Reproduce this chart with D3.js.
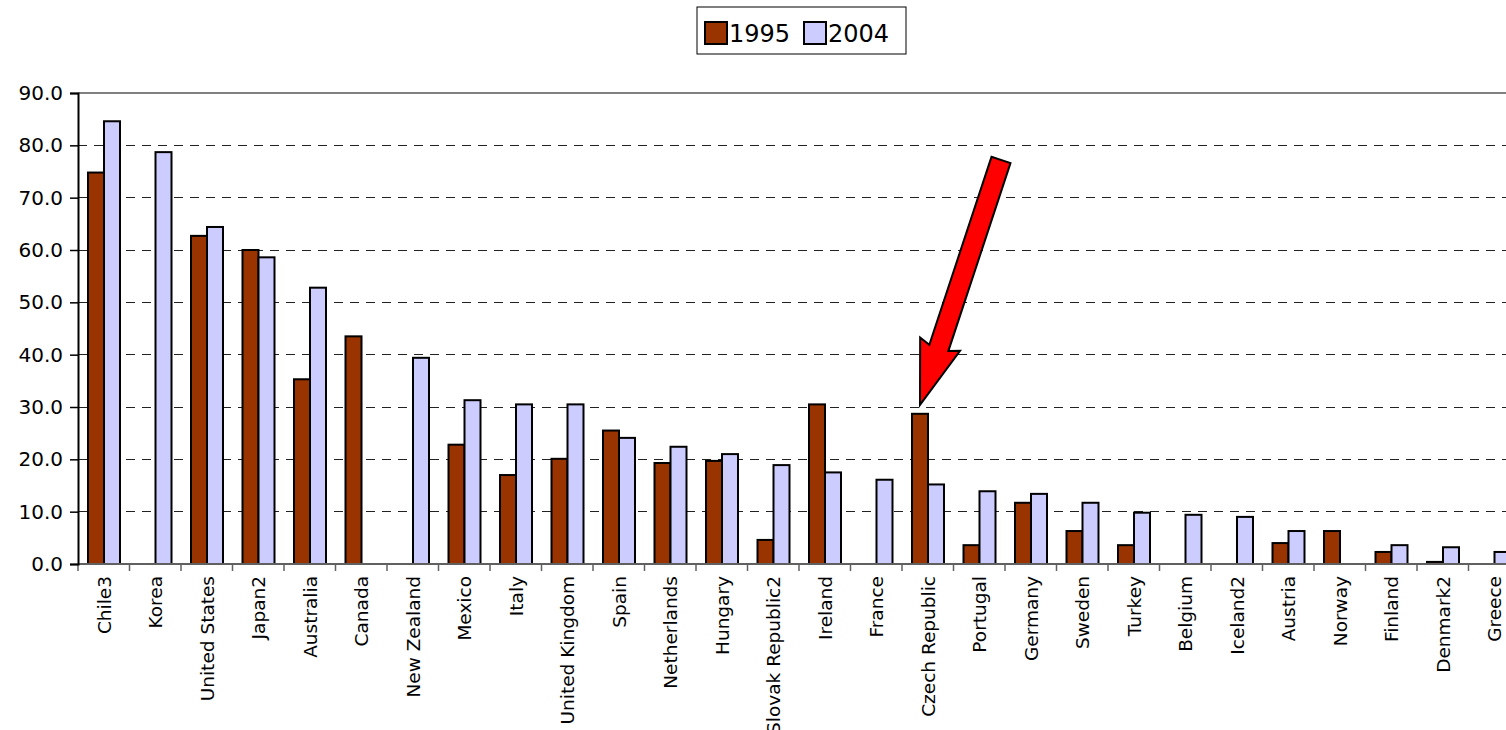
<!DOCTYPE html>
<html>
<head>
<meta charset="utf-8">
<script src="https://cdn.jsdelivr.net/npm/d3@7"></script>
<style>
  body { margin: 0; background: #fff; }
  svg { display: block; }
  .ytick text { font-family: "DejaVu Sans", Verdana, sans-serif; font-size: 20px; fill: #000; }
  .xlab { font-family: "Comic Sans MS", "DejaVu Sans", sans-serif; font-size: 18.5px; fill: #000; }
  .legend text { font-family: "Comic Sans MS", "DejaVu Sans", sans-serif; font-size: 24px; fill: #000; }
</style>
</head>
<body>
<svg id="chart" width="1506" height="730"></svg>
<script>
const countries = ["Chile3", "Korea", "United States", "Japan2", "Australia", "Canada", "New Zealand",
  "Mexico", "Italy", "United Kingdom", "Spain", "Netherlands", "Hungary", "Slovak Republic2", "Ireland",
  "France", "Czech Republic", "Portugal", "Germany", "Sweden", "Turkey", "Belgium", "Iceland2", "Austria",
  "Norway", "Finland", "Denmark2", "Greece"];
const values1995 = [74.8, null, 62.7, 60.0, 35.3, 43.5, null, 22.8, 17.0, 20.1, 25.5, 19.3, 19.7, 4.6, 30.5,
  null, 28.7, 3.6, 11.7, 6.3, 3.6, null, null, 4.0, 6.3, 2.3, 0.4, null];
const values2004 = [84.6, 78.7, 64.4, 58.6, 52.8, null, 39.4, 31.3, 30.5, 30.5, 24.1, 22.4, 21.0, 18.9, 17.5,
  16.1, 15.2, 13.9, 13.4, 11.7, 9.8, 9.4, 9.0, 6.3, null, 3.6, 3.2, 2.3];
const seriesNames = ["1995", "2004"];
const seriesColors = ["#993300", "#CCCCFF"];
const yTicks = [0, 10, 20, 30, 40, 50, 60, 70, 80, 90];

const svg = d3.select("#chart");
const mLeft = 78, mTop = 93, mBottom = 564, band = 51.5;

const x = d3.scaleBand()
  .domain(countries)
  .range([mLeft, mLeft + band * countries.length])
  .paddingInner(0).paddingOuter(0);

const y = d3.scaleLinear().domain([0, 90]).range([mBottom, mTop]);

const inner = d3.scaleBand().domain(seriesNames).range([10, 42]);

// gridlines
svg.append("g").selectAll("line")
  .data(yTicks.filter(d => d > 0 && d < 90))
  .join("line")
  .attr("x1", mLeft).attr("x2", 1506)
  .attr("y1", d => y(d)).attr("y2", d => y(d))
  .attr("stroke", "#222").attr("stroke-width", 1)
  .attr("stroke-dasharray", "9,7")
  .attr("shape-rendering", "crispEdges");

// plot top border
svg.append("line")
  .attr("x1", mLeft).attr("x2", 1506)
  .attr("y1", y(90)).attr("y2", y(90))
  .attr("stroke", "#808080").attr("stroke-width", 2);

// bars
const rows = countries.map((c, i) => ({ c, v: [values1995[i], values2004[i]] }));
const groups = svg.append("g").selectAll("g")
  .data(rows)
  .join("g")
  .attr("transform", d => `translate(${x(d.c)},0)`);

groups.selectAll("rect")
  .data(d => seriesNames.map((s, k) => ({ s, v: d.v[k], k })).filter(e => e.v !== null))
  .join("rect")
  .attr("x", d => inner(d.s))
  .attr("width", inner.bandwidth())
  .attr("y", d => y(d.v))
  .attr("height", d => y(0) - y(d.v))
  .attr("fill", d => seriesColors[d.k])
  .attr("stroke", "#000").attr("stroke-width", 2);

// x axis
svg.append("line")
  .attr("x1", mLeft).attr("x2", 1506)
  .attr("y1", mBottom).attr("y2", mBottom)
  .attr("stroke", "#606060").attr("stroke-width", 2);

svg.append("g").selectAll("line")
  .data(d3.range(countries.length + 1))
  .join("line")
  .attr("x1", i => mLeft + i * x.bandwidth()).attr("x2", i => mLeft + i * x.bandwidth())
  .attr("y1", mBottom).attr("y2", mBottom + 7)
  .attr("stroke", "#606060").attr("stroke-width", 1.5);

svg.append("g").selectAll("text")
  .data(countries)
  .join("text")
  .attr("class", "xlab")
  .attr("transform", d => `translate(${x(d) + x.bandwidth() / 2 + 7},${mBottom + 12}) rotate(-90)`)
  .attr("text-anchor", "end")
  .text(d => d);

// y axis
const yAxis = svg.append("g")
  .attr("class", "ytick")
  .attr("transform", `translate(${mLeft},0)`)
  .call(d3.axisLeft(y).tickValues(yTicks).tickFormat(d3.format(".1f")).tickSize(8).tickPadding(7));
yAxis.select(".domain").attr("stroke", "#000").attr("stroke-width", 2);
yAxis.selectAll(".tick line").attr("stroke", "#000").attr("stroke-width", 1.5);

// legend
const legend = svg.append("g").attr("class", "legend").attr("transform", "translate(697,7)");
legend.append("rect")
  .attr("width", 209).attr("height", 47)
  .attr("fill", "#fff").attr("stroke", "#000").attr("stroke-width", 1);
const legendItems = legend.selectAll("g")
  .data(seriesNames)
  .join("g")
  .attr("transform", (d, i) => `translate(${8 + i * 99},15)`);
legendItems.append("rect")
  .attr("width", 22).attr("height", 22)
  .attr("fill", (d, i) => seriesColors[i])
  .attr("stroke", "#000").attr("stroke-width", 2);
legendItems.append("text")
  .attr("x", 24).attr("y", 20)
  .text(d => d);

// red arrow pointing to Czech Republic 1995
const tipX = x("Czech Republic") + inner("1995") + inner.bandwidth() / 2;
const tipY = y(30.4);
const tailX = tipX + 81, tailY = y(77.2);
const L = Math.hypot(tailX - tipX, tailY - tipY);
const ux = (tailX - tipX) / L, uy = (tailY - tipY) / L;
const px = -uy, py = ux;
const headLen = 64, headHalf = 21, shaftHalf = 10;
const pt = (a, b) => [tipX + ux * a + px * b, tipY + uy * a + py * b];
const arrowPts = [
  pt(0, 0), pt(headLen, headHalf), pt(headLen - 4, shaftHalf), pt(L, shaftHalf),
  pt(L, -shaftHalf), pt(headLen - 4, -shaftHalf), pt(headLen, -headHalf)
];
svg.append("path")
  .attr("d", d3.line()(arrowPts) + "Z")
  .attr("fill", "#ff0000").attr("stroke", "#000").attr("stroke-width", 2)
  .attr("stroke-linejoin", "miter");
</script>
</body>
</html>
